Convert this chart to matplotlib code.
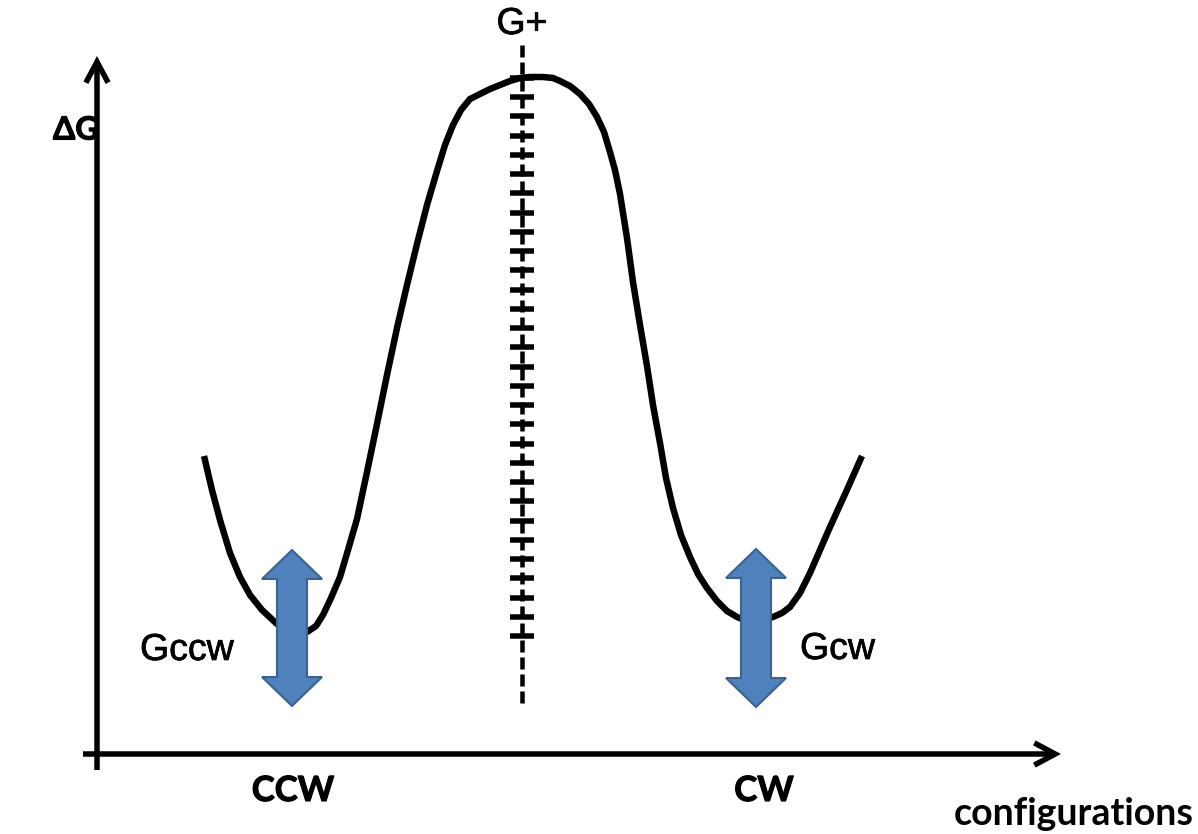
import os
import numpy as np
import matplotlib
matplotlib.use("Agg")
import matplotlib.pyplot as plt
import matplotlib.patheffects as pe
from matplotlib import font_manager as fm
from matplotlib.patches import FancyArrowPatch, Polygon

# ---- data (pixel-like coordinates, y downward) ----
curve_x = [204, 212, 220, 230, 240, 250, 262, 277, 293, 307, 316, 323, 331, 340, 348,
           357, 367, 377, 387, 397, 407, 417, 427, 437, 445, 453, 461, 470, 480, 490,
           500, 510, 520, 530, 543, 553, 560, 570, 580, 589, 597, 604, 610, 615, 620,
           627, 633, 640, 647, 653, 660, 666, 673, 681, 690, 698, 707, 717, 727, 737,
           747, 760, 773, 782, 790, 800, 810, 820, 830, 846, 862]
curve_y = [456, 490, 520, 553, 577, 595, 610, 624, 633, 632, 626, 615, 598, 577, 550,
           519, 472, 424, 375, 328, 285, 244, 205, 171, 145, 125, 110, 99, 94, 89,
           85, 81, 78, 77, 77, 78, 81, 86, 94, 104, 117, 132, 152, 170, 194,
           238, 282, 325, 366, 405, 443, 478, 508, 535, 557, 574, 588, 601, 611, 617,
           621, 621, 617, 613, 607, 593, 573, 550, 527, 492, 456]

ts_x = 522                      # transition-state line position
ts_line_y = [45, 706]           # extent of dashed line
cross_y = [78, 97, 116, 136, 155, 174, 193, 213, 232, 251, 270, 290, 309, 328, 347,
           367, 386, 405, 424, 444, 463, 482, 501, 521, 540, 559, 578, 598, 617, 636]

arrow_cx = [292, 756]
arrow_top = [550, 549]
arrow_bot = [706, 707]

labels_state = ["CCW", "CW"]
labels_state_x = [293, 764]
labels_G = ["Gccw", "Gcw"]


def bold_font(size):
    """Pick the Lato Bold file explicitly so the weight is deterministic."""
    cands = [f for f in fm.fontManager.ttflist
             if f.name == "Lato" and f.style == "normal" and f.weight in (700, "bold")]
    good = [f for f in cands
            if os.path.basename(f.fname).lower().replace("-", "").replace("_", "")
            in ("latobold.ttf", "latobold.otf")]
    pick = (good or sorted(cands, key=lambda f: len(f.fname)))
    if pick:
        return fm.FontProperties(fname=pick[0].fname, size=size)
    return fm.FontProperties(family=["Lato", "DejaVu Sans"], weight="bold", size=size)


W, H = 1198, 834
fig = plt.figure(figsize=(W / 100, H / 100), dpi=100)
ax = fig.add_axes([0, 0, 1, 1])
ax.set_xlim(0, W)
ax.set_ylim(H, 0)
ax.axis("off")

px = 0.72  # points per pixel at 100 dpi

# axes arrows
for (x0, y0, x1, y1) in [(97, 770, 97, 56), (83, 754, 1061, 754)]:
    ax.add_patch(FancyArrowPatch((x0, y0), (x1, y1),
                                 arrowstyle="->,head_length=15,head_width=8",
                                 mutation_scale=1, lw=5.5 * px, color="black",
                                 shrinkA=0, shrinkB=0, joinstyle="miter",
                                 capstyle="butt", zorder=3))

# energy curve
ax.plot(curve_x, curve_y, color="black", lw=6.5 * px, solid_joinstyle="round",
        solid_capstyle="butt", zorder=4)

# transition state dashed line with crosses
lw_ts = 4.5 * px
ax.plot([ts_x, ts_x], ts_line_y, color="black", lw=lw_ts,
        linestyle=(0, (12 * px / lw_ts, 5 * px / lw_ts)), zorder=5)
ax.plot([ts_x] * len(cross_y), cross_y, linestyle="none", marker="_",
        markersize=24 * px, markeredgewidth=5.5 * px, color="black", zorder=5)

# blue double arrows
head_len, head_w, shaft_w = 29, 60, 30
for cx, yt, yb in zip(arrow_cx, arrow_top, arrow_bot):
    pts = [(cx, yt), (cx + head_w / 2, yt + head_len), (cx + shaft_w / 2, yt + head_len),
           (cx + shaft_w / 2, yb - head_len), (cx + head_w / 2, yb - head_len), (cx, yb),
           (cx - head_w / 2, yb - head_len), (cx - shaft_w / 2, yb - head_len),
           (cx - shaft_w / 2, yt + head_len), (cx - head_w / 2, yt + head_len)]
    ax.add_patch(Polygon(pts, closed=True, facecolor="#4F81BD", edgecolor="#3B6392",
                         lw=1.5, zorder=6))

# texts
arial = ["Liberation Sans", "DejaVu Sans"]
heavy = [pe.withStroke(linewidth=0.5, foreground="black")]
bolder = [pe.withStroke(linewidth=0.8, foreground="black")]
ax.text(ts_x, 24, "G+", family=arial, fontsize=27, ha="center", va="center",
        path_effects=heavy)
ax.text(140, 650, labels_G[0], family=arial, fontsize=27, ha="left", va="center",
        path_effects=heavy)
ax.text(800, 649, labels_G[1], family=arial, fontsize=27, ha="left", va="center",
        path_effects=heavy)
ax.text(53, 130, "ΔG", fontproperties=bold_font(23), ha="left", va="center",
        path_effects=bolder)
for lab, x in zip(labels_state, labels_state_x):
    ax.text(x, 791, lab, fontproperties=bold_font(25), ha="center", va="center",
            path_effects=bolder)
ax.text(1194, 814, "configurations", fontproperties=bold_font(27),
        ha="right", va="center")

fig.savefig("out.png", dpi=100)
